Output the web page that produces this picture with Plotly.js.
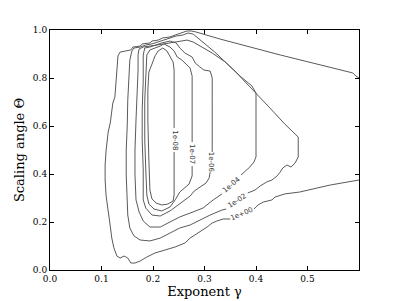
<!DOCTYPE html>
<html>
<head>
<meta charset="utf-8">
<script src="https://cdn.plot.ly/plotly-3.0.1.min.js"></script>
<style>html,body{margin:0;padding:0;background:#fff}#plot{width:399px;height:301px}</style>
</head>
<body>
<div id="plot"></div>
<script>
// Contour levels (labels)
const levels = ['1e+00', '1e-02', '1e-04', '1e-06', '1e-07', '1e-08'];

// Contour paths (x = exponent gamma, y = scaling angle theta)
const c1e00_x = [0.600,0.544,0.485,0.456,0.437,0.431,0.414,0.404,0.396,null,
  0.350,0.336,0.324,0.315,0.305,0.291,0.282,0.272,0.262,0.252,0.243,0.223,0.204,0.188,0.175,0.165,0.157,0.151,0.144,0.136,0.130,0.124,0.120,0.117,0.113,0.109,0.107,0.107,0.109,0.111,0.113,0.117,0.120,0.122,0.126,0.128,0.130,0.132,0.136,0.148,0.157,0.161,0.175,0.179,0.194,0.198,0.210,0.219,0.233,0.243,0.256,0.266,0.274,0.283,0.330,0.447,0.588,0.594,0.600];
const c1e00_y = [0.375,0.354,0.325,0.317,0.304,0.292,0.283,0.271,0.254,null,
  0.2125,0.2125,0.204,0.196,0.179,0.158,0.146,0.133,0.1125,0.104,0.096,0.083,0.071,0.054,0.0375,0.029,0.029,0.050,0.058,0.050,0.058,0.092,0.133,0.183,0.242,0.308,0.375,0.4375,0.500,0.542,0.575,0.6125,0.658,0.696,0.721,0.783,0.8625,0.892,0.908,0.9125,0.917,0.929,0.933,0.942,0.946,0.954,0.958,0.967,0.971,0.979,0.9875,0.996,0.996,0.992,0.9625,0.896,0.821,0.808,0.800];

const c1e02_x = [0.384,0.398,0.408,0.421,0.431,0.441,0.447,0.452,0.460,0.468,0.476,0.482,0.482,0.456,0.427,0.394,0.359,0.320,0.301,0.287,0.278,0.268,0.258,0.245,0.233,0.223,0.210,0.198,0.186,0.175,0.163,0.159,0.155,0.153,0.151,0.150,0.148,0.148,0.150,0.151,0.155,0.163,0.175,0.194,0.214,0.233,0.252,0.272,0.291,0.311,0.334,0.342];
const c1e02_y = [0.321,0.333,0.350,0.367,0.375,0.392,0.408,0.425,0.4375,0.429,0.446,0.471,0.554,0.608,0.675,0.750,0.829,0.908,0.942,0.967,0.983,0.9875,0.979,0.975,0.967,0.958,0.950,0.942,0.9375,0.929,0.925,0.9125,0.875,0.8125,0.708,0.604,0.500,0.396,0.292,0.229,0.175,0.142,0.125,0.121,0.133,0.154,0.175,0.1875,0.208,0.229,0.250,0.254];

const c1e04_x = [0.371,0.379,0.388,0.396,0.400,0.400,0.392,0.369,0.340,0.315,0.291,0.278,0.266,0.256,0.245,0.233,0.221,0.208,0.194,0.181,0.173,0.171,0.171,0.169,0.167,0.165,0.165,0.167,0.173,0.181,0.194,0.214,0.233,0.252,0.278,0.297,0.317,0.330,0.334];
const c1e04_y = [0.396,0.4125,0.429,0.450,0.471,0.7375,0.767,0.808,0.867,0.904,0.933,0.950,0.958,0.954,0.950,0.946,0.942,0.9375,0.933,0.929,0.921,0.896,0.833,0.750,0.625,0.500,0.396,0.292,0.242,0.204,0.179,0.179,0.200,0.221,0.242,0.258,0.292,0.3125,0.317];

const c1e06_x = [0.311,0.309,0.303,0.291,0.280,0.272,0.262,0.252,0.233,0.214,0.198,0.186,0.181,0.181,0.179,0.179,0.181,0.181,0.184,0.194,0.204,0.217,0.233,0.245,0.252,0.262,0.276,0.282,0.291,0.299,0.311,0.315,0.315,0.315,0.315];
const c1e06_y = [0.408,0.383,0.3625,0.346,0.329,0.308,0.292,0.279,0.246,0.225,0.229,0.258,0.292,0.417,0.542,0.667,0.792,0.896,0.925,0.929,0.9375,0.946,0.954,0.946,0.925,0.904,0.8875,0.8625,0.846,0.833,0.829,0.800,0.708,0.500,0.492];

const c1e07_x = [0.276,0.276,0.270,0.262,0.252,0.243,0.233,0.217,0.202,0.192,0.188,0.186,0.184,0.184,0.186,0.188,0.194,0.204,0.214,0.221,0.233,0.241,0.247,0.256,0.264,0.272,0.276,0.276];
const c1e07_y = [0.433,0.392,0.358,0.342,0.325,0.292,0.2625,0.246,0.254,0.275,0.3125,0.417,0.542,0.708,0.8125,0.896,0.917,0.925,0.933,0.942,0.929,0.9125,0.8875,0.875,0.858,0.842,0.808,0.533];

const c1e08_x = [0.241,0.241,0.239,0.229,0.217,0.206,0.198,0.194,0.192,0.190,0.190,0.192,0.198,0.204,0.210,0.219,0.227,0.233,0.239,0.241,0.241];
const c1e08_y = [0.492,0.3125,0.2875,0.275,0.271,0.279,0.296,0.333,0.458,0.625,0.750,0.825,0.858,0.892,0.9125,0.925,0.9125,0.892,0.867,0.833,0.592];

// Label anchor points on the contours
const labelX = [0.373, 0.363, 0.352, 0.313, 0.276, 0.241];
const labelY = [0.233, 0.2875, 0.356, 0.450, 0.483, 0.540];

// x / y tick labels
const xTicks = [0, 0.1, 0.2, 0.3, 0.4, 0.5];
const xTickText = ['0.0', '0.1', '0.2', '0.3', '0.4', '0.5'];
const yTicks = [0, 0.2, 0.4, 0.6, 0.8, 1.0];
const yTickText = ['0.0', '0.2', '0.4', '0.6', '0.8', '1.0'];

const paths = [[c1e00_x, c1e00_y], [c1e02_x, c1e02_y], [c1e04_x, c1e04_y],
               [c1e06_x, c1e06_y], [c1e07_x, c1e07_y], [c1e08_x, c1e08_y]];
const angles = [-23, -33, -40, 90, 90, 90];

const lineColor = '#5a5a5a';
const traces = paths.map((p, i) => ({
  type: 'scatter', mode: 'lines', x: p[0], y: p[1], name: levels[i],
  connectgaps: false, hoverinfo: 'skip',
  line: {color: lineColor, width: 1}
}));

const annotations = levels.map((t, i) => ({
  x: labelX[i], y: labelY[i], xref: 'x', yref: 'y', text: t,
  showarrow: false, textangle: angles[i],
  font: {family: 'DejaVu Sans', size: 7, color: '#333'}
}));

const serif = 'DejaVu Serif';
const layout = {
  width: 399, height: 301,
  margin: {l: 50, r: 40, t: 30, b: 31, pad: 0},
  paper_bgcolor: '#fff', plot_bgcolor: '#fff',
  showlegend: false,
  xaxis: {
    range: [0, 0.6], tickvals: xTicks, ticktext: xTickText,
    ticks: 'inside', ticklen: 4, tickcolor: '#000', tickwidth: 1,
    showline: true, linecolor: '#000', linewidth: 1, mirror: 'ticks',
    showgrid: false, zeroline: false,
    tickfont: {family: serif, size: 9, color: '#000'},
    title: {text: 'Exponent γ', font: {family: serif, size: 13, color: '#000'}, standoff: 1}
  },
  yaxis: {
    range: [0, 1], tickvals: yTicks, ticktext: yTickText,
    ticks: 'inside', ticklen: 4, tickcolor: '#000', tickwidth: 1,
    showline: true, linecolor: '#000', linewidth: 1, mirror: 'ticks',
    showgrid: false, zeroline: false,
    tickfont: {family: serif, size: 9, color: '#000'},
    title: {text: 'Scaling angle Θ', font: {family: serif, size: 13, color: '#000'}, standoff: 5}
  },
  annotations: annotations
};

Plotly.newPlot('plot', traces, layout, {staticPlot: true, displayModeBar: false});
</script>
</body>
</html>
